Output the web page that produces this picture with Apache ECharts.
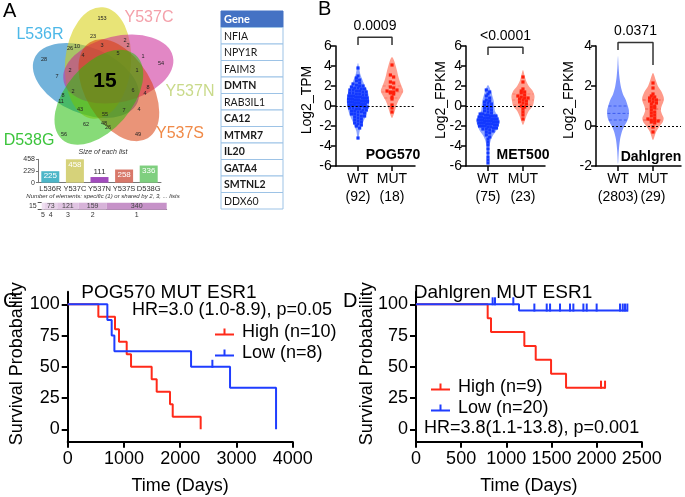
<!DOCTYPE html>
<html>
<head>
<meta charset="utf-8">
<script src="https://cdn.jsdelivr.net/npm/echarts@6.0.0/dist/echarts.min.js"></script>
<style>
html,body{margin:0;padding:0;background:#ffffff;}
#chart{width:685px;height:497px;}
</style>
</head>
<body>
<div id="chart"></div>
<script>
// ===================== DATA =====================
// Panel A - Venn diagram of ESR1 mutant gene lists
const vennSets = ['Y537C', 'Y537N', 'Y537S', 'D538G', 'L536R'];
const vennRegionCounts = [153, 23, 26, 10, 3, 2, 2, 28, 4, 5, 1, 54, 2, 1, 7, 15, 2, 6, 8, 4, 8, 11, 43, 55, 7, 4, 62, 48, 26, 56, 49];
const listCategories = ['L536R', 'Y537C', 'Y537N', 'Y537S', 'D538G'];
const listSizes = [225, 458, 111, 258, 336];
const sharedByLabels = ['5', '4', '3', '2', '1'];
const sharedByCounts = [15, 73, 121, 159, 340];
const tableHeader = 'Gene';
const genes = ['NFIA', 'NPY1R', 'FAIM3', 'DMTN', 'RAB3IL1', 'CA12', 'MTMR7', 'IL20', 'GATA4', 'SMTNL2', 'DDX60'];
const boldGenes = ['DMTN', 'CA12', 'MTMR7', 'IL20', 'GATA4', 'SMTNL2'];

// Panel B - expression by ESR1 status
const groups = ['WT', 'MUT'];
const cohortNames = ['POG570', 'MET500', 'Dahlgren'];
const cohortN = [['(92)', '(18)'], ['(75)', '(23)'], ['(2803)', '(29)']];
const yTitles = ['Log2_TPM', 'Log2_FPKM', 'Log2_FPKM'];
const pValues = ['0.0009', '<0.0001', '0.0371'];
const bracketTop = [6.87, 5.87, 4.17];
const bracketLegs = [[6.1, 6.1], [5.1, 5.2], [3.8, 3.05]];

const pogWT = [3.8, 3.0, 2.8, 2.6, 2.5, 2.3, 2.2, 2.1, 2.0, 2.0,
  1.9, 1.8, 1.8, 1.7, 1.6, 1.6, 1.5, 1.5, 1.4, 1.4,
  1.3, 1.3, 1.2, 1.2, 1.1, 1.1, 1.0, 1.0, 1.0, 0.9,
  0.9, 0.9, 0.8, 0.8, 0.8, 0.7, 0.7, 0.7, 0.6, 0.6,
  0.6, 0.5, 0.5, 0.5, 0.5, 0.4, 0.4, 0.4, 0.3, 0.3,
  0.3, 0.2, 0.2, 0.2, 0.1, 0.1, 0.1, 0.0, 0.0, 0.0,
  -0.1, -0.1, -0.2, -0.2, -0.3, -0.3, -0.4, -0.4, -0.5, -0.5,
  -0.6, -0.6, -0.7, -0.8, -0.8, -0.9, -1.0, -1.0, -1.1, -1.2,
  -1.3, -1.4, -1.5, -1.6, -1.7, -1.8, -1.9, -2.0, -2.2, -3.2, 1.7, 0.4];
const pogMUT = [4.1, 3.1, 2.9, 2.4, 2.3, 1.9, 1.8, 1.5, 1.4, 1.4, 1.3, 1.2, 0.9, 0.7, 0.1, -0.2, -0.6, 1.6];
const metWT = [1.6, 1.4, 1.2, 1.0, 0.8, 0.6, 0.5, 0.4, 0.3, 0.2,
  0.1, 0.0, -0.1, -0.2, -0.3, -0.4, -0.5, -0.6, -0.7, -0.8,
  -0.8, -0.9, -0.9, -1.0, -1.0, -1.0, -1.1, -1.1, -1.2, -1.2,
  -1.2, -1.3, -1.3, -1.3, -1.4, -1.4, -1.4, -1.5, -1.5, -1.5,
  -1.5, -1.6, -1.6, -1.6, -1.7, -1.7, -1.7, -1.8, -1.8, -1.8,
  -1.9, -1.9, -2.0, -2.0, -2.0, -2.1, -2.1, -2.2, -2.2, -2.3,
  -2.3, -2.4, -2.5, -2.6, -2.7, -2.9, -3.1, -3.3, -3.6, -3.9,
  -4.3, -4.7, -5.1, -5.4, -5.7];
const metMUT = [2.9, 2.4, 1.7, 1.5, 1.4, 1.3, 1.1, 1.0, 0.9, 0.8, 0.7, 0.6, 0.5, 0.4, 0.3, 0.2, 0.0, -0.1, -0.3, -0.6, -0.9, -1.3, 0.8];
const dahMUT = [2.15, 1.9, 1.6, 1.5, 1.45, 1.4, 1.35, 1.3, 1.25, 1.2, 1.15, 1.1, 1.0, 0.95, 0.9, 0.8, 0.7, 0.65, 0.55, 0.5, 0.4, 0.35, 0.3, 0.28, 0.25, 0.2, 0.15, -0.05, -0.3];

// violin outlines: level and relative half-width
const pogWTLevels = [4.3, 3.8, 3.2, 2.6, 2.0, 1.5, 1.0, 0.5, 0.0, -0.5, -1.0, -1.5, -2.0, -2.5, -3.0, -3.4];
const pogWTWidths = [0, 0.1, 0.2, 0.4, 0.62, 0.85, 0.95, 1.0, 0.95, 0.85, 0.7, 0.5, 0.32, 0.15, 0.08, 0];
const pogMUTLevels = [4.9, 4.5, 4.0, 3.5, 3.0, 2.5, 2.0, 1.5, 1.0, 0.5, 0.0, -0.5, -1.2];
const pogMUTWidths = [0, 0.2, 0.33, 0.45, 0.55, 0.68, 0.85, 1.0, 0.8, 0.55, 0.38, 0.25, 0];
const metWTLevels = [2.1, 1.5, 1.0, 0.5, 0.0, -0.5, -1.0, -1.5, -2.0, -2.5, -3.0, -3.5, -4.0, -5.0, -5.7];
const metWTWidths = [0, 0.25, 0.38, 0.5, 0.55, 0.6, 0.85, 1.0, 0.9, 0.7, 0.4, 0.22, 0.13, 0.07, 0];
const metMUTLevels = [3.6, 3.0, 2.5, 2.0, 1.5, 1.0, 0.5, 0.0, -0.5, -1.0, -1.5, -1.9];
const metMUTWidths = [0, 0.15, 0.28, 0.5, 0.85, 1.0, 0.95, 0.85, 0.5, 0.3, 0.15, 0];
const dahWTLevels = [3.5, 3.0, 2.5, 2.0, 1.6, 1.3, 1.0, 0.8, 0.6, 0.4, 0.2, 0.0, -0.3, -0.7, -1.2, -1.9];
const dahWTWidths = [0, 0.05, 0.12, 0.25, 0.45, 0.72, 0.9, 1.0, 1.0, 0.95, 0.8, 0.58, 0.35, 0.18, 0.08, 0];
const dahMUTLevels = [2.65, 2.3, 2.0, 1.7, 1.4, 1.2, 1.0, 0.8, 0.6, 0.4, 0.2, 0.0, -0.3, -0.7];
const dahMUTWidths = [0, 0.25, 0.45, 0.8, 1.0, 0.95, 0.8, 0.72, 0.82, 0.98, 0.9, 0.62, 0.28, 0];
// quartiles [Q1, median, Q3]
const pogQuart = [[-0.3, 0.5, 1.2], [0.8, 1.4, 2.0]];
const metQuart = [[-2.0, -1.4, -0.6], [0.1, 0.6, 1.2]];
const dahQuart = [[0.3, 0.63, 1.0], [0.3, 0.85, 1.3]];

// Panels C, D - Kaplan-Meier
const kmTitles = ['POG570 MUT ESR1', 'Dahlgren MUT ESR1'];
const kmYTitle = 'Survival Probabaility';
const kmXTitle = 'Time (Days)';
const hrTexts = ['HR=3.0 (1.0-8.9), p=0.05', 'HR=3.8(1.1-13.8), p=0.001'];
const cHighName = 'High (n=10)', cLowName = 'Low (n=8)';
const dHighName = 'High (n=9)', dLowName = 'Low (n=20)';
const cHighDays = [0, 545, 841, 912, 1049, 1126, 1493, 1582, 1819, 1867, 2364];
const cHighSurv = [100, 90, 80, 70, 60, 50, 40, 30, 20, 10, 0];
const cLowDays = [0, 705, 782, 830, 2193, 2886, 3704];
const cLowSurv = [100, 87.5, 75, 62.5, 50, 33.3, 0];
const cLowCensorDays = [2572];
const cLowCensorSurv = [50];
const dHighDays = [0, 794, 831, 1200, 1326, 1496, 1662, 2094];
const dHighSurv = [100, 88.9, 77.8, 66.7, 55.6, 44.4, 33.3, 33.3];
const dHighCensorDays = [2049, 2094];
const dHighCensorSurv = [33.3, 33.3];
const dLowDays = [0, 1141, 2345];
const dLowSurv = [100, 95, 95];
const dLowCensorDays = [849, 875, 1078, 1311, 1448, 1485, 1595, 1706, 1743, 1854, 1891, 2001, 2260, 2290, 2315, 2341];
const dLowCensorSurv = [100, 100, 100, 95, 95, 95, 95, 95, 95, 95, 95, 95, 95, 95, 95, 95];
const kmYTicks = [0, 25, 50, 75, 100];

// ===================== LAYOUT / STYLE =====================
const FONT = '"Liberation Sans", Arial, sans-serif';
const RED = '#ff2a1a', BLUE = '#1f3dff';
const WT_PT = '#1238ff', MUT_PT = '#ff1e0a';
const listColors = ['#4db6c8', '#d6d27a', '#a24cbd', '#d8786a', '#7fcf7f'];
const sharedColors = ['#efdff1', '#e8d2ea', '#e0c4e2', '#d7b3d9', '#c692c8'];
const vennFills = ['rgba(213,205,7,0.55)', 'rgba(203,37,150,0.55)', 'rgba(217,60,10,0.55)', 'rgba(37,190,10,0.55)', 'rgba(0,117,190,0.55)'];
const vennLabelColors = ['#f4a0aa', '#c9da8a', '#f08a48', '#3cc43c', '#4db8e8'];
const vennLabelPos = [[149, 18], [190, 92], [180, 134], [29, 141], [40, 35]];
const vennRegionPos = [[102,18],[93,36],[70,48],[77,46],[102,45],[125,40],[128,45],[44,59],[83,55],[118,53],[143,56],[161,63],[70,70],[137,70],[57,76],[105,81],[73,91],[133,90],[148,87],[145,93],[63,95],[61,101],[80,109],[105,114],[124,110],[139,109],[86,124],[104,123],[108,127],[64,134],[138,134]];
const VC = [104, 80], VOFF = [-6, -17], VA = 56, VB = 33, VTILT = 5;

const panelB = [
  { left: 335.7, right: 415, xmin: 0.344, xmax: 2.676, ymin: -6, ymax: 6, gap: 22, hw: 0.33 },
  { left: 466, right: 545, xmin: 0.371, xmax: 2.63, ymin: -6, ymax: 6, gap: 18, hw: 0.33 },
  { left: 596, right: 681, xmin: 0.371, xmax: 2.8, ymin: -2, ymax: 4, gap: 20, hw: 0.31 }
];
const bTop = 46, bBottom = 166;

// ===================== HELPERS =====================
function outline(lv, w) { return { lv: lv, w: w }; }
function widthAt(o, v) {
  if (v >= o.lv[0] || v <= o.lv[o.lv.length - 1]) return 0;
  for (let j = 0; j < o.lv.length - 1; j++) {
    if (v <= o.lv[j] && v >= o.lv[j + 1]) {
      const t = (o.lv[j] - v) / (o.lv[j] - o.lv[j + 1]);
      return o.w[j] + t * (o.w[j + 1] - o.w[j]);
    }
  }
  return 0;
}
function swarm(values, cx, o, hw, bin, maxStep) {
  const bins = new Map();
  values.forEach(function (v) {
    const k = Math.round(v / bin);
    if (!bins.has(k)) bins.set(k, []);
    bins.get(k).push(v);
  });
  const pts = [];
  bins.forEach(function (arr, k) {
    const n = arr.length;
    const w = Math.max(widthAt(o, k * bin), 0.12) * hw;
    const step = n > 1 ? Math.min(maxStep, (2 * w * 0.85) / (n - 1)) : 0;
    arr.forEach(function (v, i) { pts.push([cx + (i - (n - 1) / 2) * step, v]); });
  });
  return pts;
}
function violinSeries(axisIdx, outlines, fills, lineColors, quarts, hw) {
  return {
    type: 'custom', xAxisIndex: axisIdx, yAxisIndex: axisIdx, z: 1, silent: true,
    data: outlines.map(function (o, i) { return [i + 1]; }),
    renderItem: function (params, api) {
      const i = params.dataIndex, o = outlines[i], cx = api.value(0);
      const L = [], R = [];
      for (let j = 0; j < o.lv.length; j++) {
        L.push(api.coord([cx - o.w[j] * hw, o.lv[j]]));
        if (o.w[j] > 0) R.push(api.coord([cx + o.w[j] * hw, o.lv[j]]));
      }
      const pts = L.concat(R.reverse());
      const children = [{ type: 'polygon', shape: { points: pts, smooth: 0.3 }, style: { fill: fills[i] } }];
      quarts[i].forEach(function (q, k) {
        const w = widthAt(o, q) * hw * 0.97;
        const a = api.coord([cx - w, q]), b = api.coord([cx + w, q]);
        children.push({ type: 'line', shape: { x1: a[0], y1: a[1], x2: b[0], y2: b[1] },
          style: { stroke: lineColors[i], lineWidth: 1, lineDash: [3, 2] } });
      });
      return { type: 'group', children: children };
    }
  };
}
function pairs(a, b) { return a.map(function (x, i) { return [x, b[i]]; }); }

// ===================== BUILD =====================
const grids = [], xAxes = [], yAxes = [], series = [], graphics = [];

// ---- grid 0 : size of each list
grids.push({ left: 38, top: 159.3, width: 123, height: 23.4 });
xAxes.push({ gridIndex: 0, type: 'category', data: listCategories,
  axisLine: { lineStyle: { color: '#777', width: 1 } }, axisTick: { show: false },
  axisLabel: { fontSize: 7.5, color: '#333', margin: 2, fontFamily: FONT, interval: 0, hideOverlap: false } });
yAxes.push({ gridIndex: 0, type: 'value', min: 0, max: 458, interval: 229, splitLine: { show: false },
  axisLine: { show: true, lineStyle: { color: '#777', width: 1 } }, axisTick: { show: true, length: 2 },
  axisLabel: { fontSize: 7, color: '#333', margin: 3, fontFamily: FONT } });
series.push({ type: 'bar', xAxisIndex: 0, yAxisIndex: 0, barWidth: 18, silent: true,
  data: listSizes.map(function (v, i) {
    return { value: v, itemStyle: { color: listColors[i] },
      label: v < 150 ? { position: 'top', color: '#333' } : {} };
  }),
  label: { show: true, position: 'insideTop', distance: 1, color: '#fff', fontSize: 8, fontFamily: FONT } });

// ---- grid 1 : shared-by bar
const sharedTotal = sharedByCounts.reduce(function (a, b) { return a + b; }, 0);
grids.push({ left: 41.7, top: 202.7, width: 125, height: 7 });
xAxes.push({ gridIndex: 1, type: 'value', min: 0, max: sharedTotal, axisLabel: { show: false }, axisTick: { show: false },
  splitLine: { show: false }, axisLine: { show: true, onZero: false, lineStyle: { color: '#777', width: 1 } } });
yAxes.push({ gridIndex: 1, type: 'category', data: [String(sharedByCounts[0])],
  axisLine: { show: false }, axisTick: { show: true, length: 4, lineStyle: { color: '#555' } },
  axisLabel: { fontSize: 7, color: '#333', margin: 5, fontFamily: FONT } });
sharedByCounts.forEach(function (c, i) {
  series.push({ type: 'bar', xAxisIndex: 1, yAxisIndex: 1, stack: 'cnt', barWidth: 7, barGap: '-100%', silent: true,
    data: [c], itemStyle: { color: sharedColors[i] },
    label: { show: i > 0, position: 'inside', fontSize: 7, color: '#444', fontFamily: FONT } });
});
sharedByCounts.forEach(function (c, i) {
  series.push({ type: 'bar', xAxisIndex: 1, yAxisIndex: 1, stack: 'lbl', barWidth: 7, barGap: '-100%', silent: true,
    data: [c], itemStyle: { color: 'rgba(0,0,0,0)' },
    label: { show: true, position: 'bottom', distance: 2, formatter: sharedByLabels[i], fontSize: 7, color: '#333', fontFamily: FONT } });
});

// ---- grid 2 : table
const tableRows = [tableHeader].concat(genes);
grids.push({ left: 221, top: 11, width: 62, height: 198 });
xAxes.push({ gridIndex: 2, type: 'value', min: 0, max: 1, show: false });
yAxes.push({ gridIndex: 2, type: 'category', data: tableRows, inverse: true, show: false });
series.push({ type: 'custom', xAxisIndex: 2, yAxisIndex: 2, silent: true,
  data: tableRows.map(function (r, i) { return [0.5, i]; }),
  renderItem: function (params, api) {
    const i = params.dataIndex;
    const c = api.coord([0, i]), e = api.coord([1, i]);
    const h = api.size([0, 1])[1];
    const head = i === 0;
    const bold = head || boldGenes.indexOf(tableRows[i]) >= 0;
    return { type: 'group', children: [
      { type: 'rect', shape: { x: c[0], y: c[1] - h / 2, width: e[0] - c[0], height: h },
        style: { fill: head ? '#4472c4' : '#ffffff', stroke: head ? '#4472c4' : '#9dc3e6', lineWidth: 1 } },
      { type: 'text', style: { text: tableRows[i], x: c[0] + 3, y: c[1] + 0.5, verticalAlign: 'middle', textVerticalAlign: 'middle',
        fontSize: head ? 11 : 10.5, fontWeight: bold ? 'bold' : 'normal', fontFamily: 'Lato, "Open Sans", sans-serif',
        fill: head ? '#ffffff' : '#1a1a1a' } }
    ] };
  } });

// ---- grids 3-5 : violins
const bOutlines = [
  [outline(pogWTLevels, pogWTWidths), outline(pogMUTLevels, pogMUTWidths)],
  [outline(metWTLevels, metWTWidths), outline(metMUTLevels, metMUTWidths)],
  [outline(dahWTLevels, dahWTWidths), outline(dahMUTLevels, dahMUTWidths)]
];
const bQuarts = [pogQuart, metQuart, dahQuart];
const bPoints = [[pogWT, pogMUT], [metWT, metMUT], [null, dahMUT]];
panelB.forEach(function (p, k) {
  const gi = 3 + k;
  grids.push({ left: p.left, top: bTop, width: p.right - p.left, height: bBottom - bTop });
  xAxes.push({ gridIndex: gi, type: 'value', min: p.xmin, max: p.xmax, splitLine: { show: false },
    axisLine: { onZero: false, lineStyle: { color: '#000', width: 1.5 } },
    axisTick: { customValues: [1, 2], length: 5, lineStyle: { color: '#000', width: 1.5 } },
    axisLabel: { customValues: [1, 2], margin: 6, fontSize: 14, color: '#000', fontFamily: FONT,
      hideOverlap: false,
      formatter: function (v) { return groups[Math.round(v) - 1]; } } });
  yAxes.push({ gridIndex: gi, type: 'value', min: p.ymin, max: p.ymax, interval: 2, splitLine: { show: false },
    name: yTitles[k], nameLocation: 'middle', nameGap: p.gap, nameMoveOverlap: false,
    nameTextStyle: { fontSize: 14, color: '#000', fontFamily: FONT, padding: [0, 0, 0, 12] },
    axisLine: { onZero: false, lineStyle: { color: '#000', width: 1.5 } },
    axisTick: { length: 5, lineStyle: { color: '#000', width: 1.5 } },
    axisLabel: { fontSize: 14, color: '#000', margin: 4, fontFamily: FONT } });
  const fills = k === 2 ? ['#7d95ff', '#ff9a8a'] : ['#8fa6ff', '#ffa090'];
  const lineCols = k === 2 ? ['#3e5cf0', '#f05a4a'] : ['#6a86ff', '#ff7a6a'];
  series.push(violinSeries(gi, bOutlines[k], fills, lineCols, bQuarts[k], p.hw));
  const bin = k === 2 ? 0.15 : 0.3;
  const maxStep = 3.3 / 34;
  bPoints[k].forEach(function (vals, gIdx) {
    if (!vals) return;
    const s = { type: 'scatter', xAxisIndex: gi, yAxisIndex: gi, z: 3, silent: true, symbol: 'rect', symbolSize: 3.2,
      itemStyle: { color: gIdx === 0 ? WT_PT : MUT_PT, opacity: 1 },
      data: swarm(vals, gIdx + 1, bOutlines[k][gIdx], p.hw, bin, maxStep) };
    if (gIdx === 1) {
      s.markLine = { silent: true, symbol: 'none', label: { show: false },
        lineStyle: { type: [2, 2], color: '#000', width: 1.2, opacity: 1 }, data: [{ yAxis: 0 }] };
    }
    series.push(s);
  });
  // group sizes under the axis labels
  series.push({ type: 'scatter', xAxisIndex: gi, yAxisIndex: gi, clip: false, symbolSize: 0, silent: true, z: 5,
    itemStyle: { opacity: 1 },
    data: [[1, p.ymin], [2, p.ymin]],
    label: { show: true, position: 'bottom', distance: 24, fontSize: 14, color: '#000', fontFamily: FONT,
      formatter: function (prm) { return cohortN[k][prm.dataIndex]; } },
    labelLayout: { hideOverlap: false } });
  // significance bracket
  series.push({ type: 'line', xAxisIndex: gi, yAxisIndex: gi, clip: false, symbol: 'none', silent: true, z: 5,
    lineStyle: { color: '#333', width: 1.5 },
    data: [[1, bracketLegs[k][0]], [1, bracketTop[k]], [2, bracketTop[k]], [2, bracketLegs[k][1]]] });
  series.push({ type: 'scatter', xAxisIndex: gi, yAxisIndex: gi, clip: false, symbolSize: 0, silent: true, z: 5,
    itemStyle: { opacity: 1 },
    data: [[1.5, bracketTop[k]]],
    label: { show: true, position: 'top', distance: 4, formatter: pValues[k], fontSize: 14, color: '#000', fontFamily: FONT } });
});

// ---- grids 6-7 : Kaplan-Meier
const kmPanels = [
  { left: 67.7, width: 225, max: 4000, interval: 1000, gap: 42,
    lines: [[cHighName, RED, cHighDays, cHighSurv, [], []], [cLowName, BLUE, cLowDays, cLowSurv, cLowCensorDays, cLowCensorSurv]] },
  { left: 416, width: 225.7, max: 2500, interval: 500, gap: 40,
    lines: [[dHighName, RED, dHighDays, dHighSurv, dHighCensorDays, dHighCensorSurv], [dLowName, BLUE, dLowDays, dLowSurv, dLowCensorDays, dLowCensorSurv]] }
];
kmPanels.forEach(function (p, k) {
  const gi = 6 + k;
  grids.push({ left: p.left, top: 291.8, width: p.width, height: 150 });
  xAxes.push({ gridIndex: gi, type: 'value', min: 0, max: p.max, interval: p.interval, splitLine: { show: false },
    name: kmXTitle, nameLocation: 'middle', nameGap: 35, nameMoveOverlap: false,
    nameTextStyle: { fontSize: 18, color: '#000', fontFamily: FONT },
    axisLine: { onZero: false, lineStyle: { color: '#000', width: 2 } },
    axisTick: { length: 6, lineStyle: { color: '#000', width: 2 } },
    axisLabel: { fontSize: 18, color: '#000', margin: 8, fontFamily: FONT, hideOverlap: false,
      formatter: function (v) { return String(v); } } });
  yAxes.push({ gridIndex: gi, type: 'value', min: -10, max: 110, splitLine: { show: false },
    name: kmYTitle, nameLocation: 'middle', nameGap: p.gap, nameMoveOverlap: false,
    nameTextStyle: { fontSize: 18, color: '#000', fontFamily: FONT, padding: [0, 0, 0, 6] },
    axisLine: { onZero: false, lineStyle: { color: '#000', width: 2 } },
    axisTick: { customValues: kmYTicks, length: 6, lineStyle: { color: '#000', width: 2 } },
    axisLabel: { customValues: kmYTicks, fontSize: 18, color: '#000', margin: 8, fontFamily: FONT } });
  p.lines.forEach(function (L) {
    series.push({ name: L[0], type: 'line', step: 'end', xAxisIndex: gi, yAxisIndex: gi, showSymbol: false, symbol: 'none',
      silent: true, z: 3, color: L[1], lineStyle: { color: L[1], width: 2 }, data: pairs(L[2], L[3]) });
    if (L[4].length) {
      series.push({ name: L[0] + ' censored', type: 'scatter', xAxisIndex: gi, yAxisIndex: gi, silent: true, z: 4,
        symbol: 'rect', symbolSize: [2, 8], symbolOffset: [0, -3], itemStyle: { color: L[1], opacity: 1 }, data: pairs(L[4], L[5]) });
    }
  });
});

// ---- graphics (Venn shapes and text annotations)
const drawOrder = [4, 0, 1, 2, 3];
drawOrder.forEach(function (k) {
  const ang = 72 * k * Math.PI / 180;
  const ox = VOFF[0] * Math.cos(ang) - VOFF[1] * Math.sin(ang);
  const oy = VOFF[0] * Math.sin(ang) + VOFF[1] * Math.cos(ang);
  graphics.push({ type: 'circle', silent: true, z: 1, shape: { cx: 0, cy: 0, r: 1 },
    x: VC[0] + ox, y: VC[1] + oy, scaleX: VB, scaleY: VA, rotation: -(VTILT + 72 * k) * Math.PI / 180,
    style: { fill: vennFills[k] } });
});
function txt(t, x, y, size, opts) {
  opts = opts || {};
  graphics.push({ type: 'text', silent: true, z: 10, x: 0, y: 0, rotation: opts.rot || 0,
    style: { text: t, x: x, y: y, fontSize: size, fontFamily: opts.family || FONT, fontWeight: opts.weight || 'normal',
      fontStyle: opts.style || 'normal', fill: opts.color || '#000',
      align: opts.align || 'center', textAlign: opts.align || 'center',
      verticalAlign: 'middle', textVerticalAlign: 'middle' } });
}
vennRegionCounts.forEach(function (c, i) {
  const big = c === 15 && i === 15;
  txt(String(c), vennRegionPos[i][0], vennRegionPos[i][1], big ? 21 : 5.5, { weight: big ? 'bold' : 'normal', color: big ? '#000' : '#222' });
});
vennSets.forEach(function (s, i) {
  txt(s, vennLabelPos[i][0], vennLabelPos[i][1], 16, { color: vennLabelColors[i] });
});
txt('Size of each list', 103, 152, 7, { style: 'italic', color: '#333' });
txt('Number of elements: specific (1) or shared by 2, 3, ... lists', 103, 196, 6, { style: 'italic', color: '#333' });
txt('A', 3, 11, 20, { align: 'left' });
txt('B', 318, 9, 20, { align: 'left' });
txt('C', 3, 301, 20, { align: 'left' });
txt('D', 343, 301, 20, { align: 'left' });
txt(cohortNames[0], 393, 155, 14, { weight: 'bold' });
txt(cohortNames[1], 523, 155, 14, { weight: 'bold' });
txt(cohortNames[2], 651, 157, 14, { weight: 'bold' });
txt(kmTitles[0], 169, 293, 19);
txt(kmTitles[1], 503, 293, 19);
txt(hrTexts[0], 332, 310, 18, { align: 'right' });
txt(hrTexts[1], 424, 428, 18, { align: 'left' });

const legendIcon = 'path://M0,5 H19 V7 H0 Z M8.5,0 H10.5 V5 H8.5 Z';
const option = {
  animation: false,
  backgroundColor: '#ffffff',
  textStyle: { fontFamily: FONT },
  grid: grids.map(function (g) { return Object.assign({ containLabel: false, outerBoundsMode: 'none' }, g); }),
  xAxis: xAxes,
  yAxis: yAxes,
  legend: [
    { data: [cHighName, cLowName], orient: 'vertical', left: 210, top: 317, itemWidth: 19, itemHeight: 7, itemGap: 1,
      icon: legendIcon, selectedMode: false, textStyle: { fontSize: 18, color: '#000', fontFamily: FONT, lineHeight: 20, padding: [0, 0, 0, 3] } },
    { data: [dHighName, dLowName], orient: 'vertical', left: 426, top: 372, itemWidth: 19, itemHeight: 7, itemGap: 1,
      icon: legendIcon, selectedMode: false, textStyle: { fontSize: 18, color: '#000', fontFamily: FONT, lineHeight: 20, padding: [0, 0, 0, 3] } }
  ],
  series: series,
  graphic: graphics
};
const chart = echarts.init(document.getElementById('chart'));
chart.setOption(option);
</script>
</body>
</html>
